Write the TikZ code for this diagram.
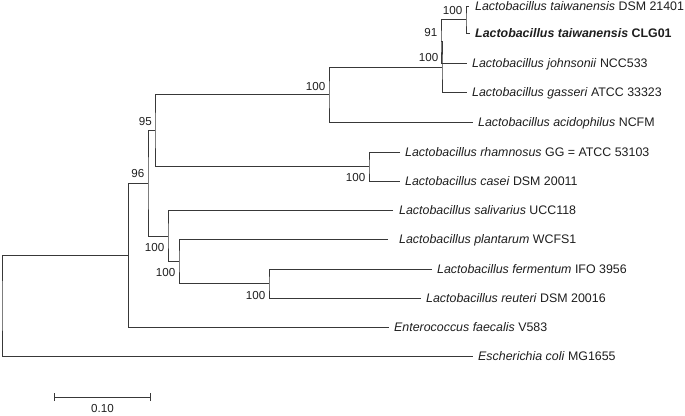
\documentclass[tikz,border=0pt]{standalone}
\usepackage{fontspec}
\setmainfont{Liberation Sans}
\definecolor{ln}{HTML}{383838}
\definecolor{tx}{HTML}{1E1E1E}
\begin{document}
\begin{tikzpicture}[x=1pt,y=-1pt,
  br/.style={draw=ln,line width=1pt},
  leaf/.style={anchor=west,inner sep=0pt,text height=8.9pt,text depth=0pt,font=\fontsize{12.4}{14}\selectfont,text=tx},
  bs/.style={anchor=east,inner sep=0pt,text height=8.3pt,text depth=0pt,font=\fontsize{11.6}{14}\selectfont,text=tx}]
\useasboundingbox (0,0) rectangle (685,415);

% leaf ends
\coordinate (e1) at (469,6);
\coordinate (e2) at (470,33);
\coordinate (e3) at (467,63.5);
\coordinate (e4) at (467,92.5);
\coordinate (e5) at (473,122);
\coordinate (e6) at (400,152);
\coordinate (e7) at (400,181);
\coordinate (e8) at (393,210.5);
\coordinate (e9) at (388,239.5);
\coordinate (e10) at (432,269);
\coordinate (e11) at (421,298);
\coordinate (e12) at (389,327);
\coordinate (e13) at (473,356.5);

% leaf labels
\node[leaf] (t1) at (475,6) {\textit{Lactobacillus taiwanensis} DSM 21401};
\node[leaf] (t2) at (475,33) {\textbf{\textit{Lactobacillus taiwanensis} CLG01}};
\node[leaf] (t3) at (472,63.5) {\textit{Lactobacillus johnsonii} NCC533};
\node[leaf] (t4) at (472,92.5) {\textit{Lactobacillus gasseri} ATCC 33323};
\node[leaf] (t5) at (478,122) {\textit{Lactobacillus acidophilus} NCFM};
\node[leaf] (t6) at (405,152) {\textit{Lactobacillus rhamnosus} GG = ATCC 53103};
\node[leaf] (t7) at (405,181) {\textit{Lactobacillus casei} DSM 20011};
\node[leaf] (t8) at (399,210.5) {\textit{Lactobacillus salivarius} UCC118};
\node[leaf] (t9) at (399,239.5) {\textit{Lactobacillus plantarum} WCFS1};
\node[leaf] (t10) at (437,269) {\textit{Lactobacillus fermentum} IFO 3956};
\node[leaf] (t11) at (426,298) {\textit{Lactobacillus reuteri} DSM 20016};
\node[leaf] (t12) at (394,327) {\textit{Enterococcus faecalis} V583};
\node[leaf] (t13) at (478,356.5) {\textit{Escherichia coli} MG1655};

% internal nodes
\coordinate (nT) at (466,19.5);
\coordinate (n91) at (441,41.5);
\coordinate (nJ) at (442,67);
\coordinate (nA) at (329,94.5);
\coordinate (nR) at (369,166.5);
\coordinate (n95) at (155,130.5);
\coordinate (nF) at (269,283.5);
\coordinate (nP) at (179,261.5);
\coordinate (nS) at (168,236);
\coordinate (nX) at (148,183.25);
\coordinate (n96) at (128.5,255.1);
\coordinate (root) at (2,305.8);

% branches
\draw[br] (e1) -| (nT) |- (e2);
\draw[br] (nT) -| (n91) |- (e3);
\draw[br] (n91) -| (nJ) |- (e4);
\draw[br] (nJ) -| (nA) |- (e5);
\draw[br] (e6) -| (nR) |- (e7);
\draw[br] (nA) -| (n95) |- (nR);
\draw[br] (e10) -| (nF) |- (e11);
\draw[br] (e9) -| (nP) |- (nF);
\draw[br] (e8) -| (nS) |- (nP);
\draw[br] (n95) -| (nX) |- (nS);
\draw[br] (nX) -| (n96) |- (e12);
\draw[br] (n96) -| (root) |- (e13);

% bootstrap values
\node[bs] (bT) at (462.5,10) {100};
\node[bs] (b91) at (437.5,32) {91};
\node[bs] (bJ) at (438.5,57.5) {100};
\node[bs] (bA) at (325.5,86) {100};
\node[bs] (b95) at (152,121) {95};
\node[bs] (bR) at (365.5,177) {100};
\node[bs] (b96) at (144.5,173.5) {96};
\node[bs] (bS) at (164.5,247) {100};
\node[bs] (bP) at (175.5,272) {100};
\node[bs] (bF) at (265.5,295) {100};

% scale bar
\coordinate (sL) at (54,397);
\coordinate (sR) at (150.5,397);
\draw[br] (sL) -- (sR);
\draw[br] ([yshift=-4pt]sL) -- ([yshift=4pt]sL);
\draw[br] ([yshift=-4pt]sR) -- ([yshift=4pt]sR);
\node[font=\fontsize{11.6}{14}\selectfont,text=tx,inner sep=0pt,text height=8.3pt,text depth=0pt] (sc) at (102.5,408.5) {0.10};
\end{tikzpicture}
\end{document}
